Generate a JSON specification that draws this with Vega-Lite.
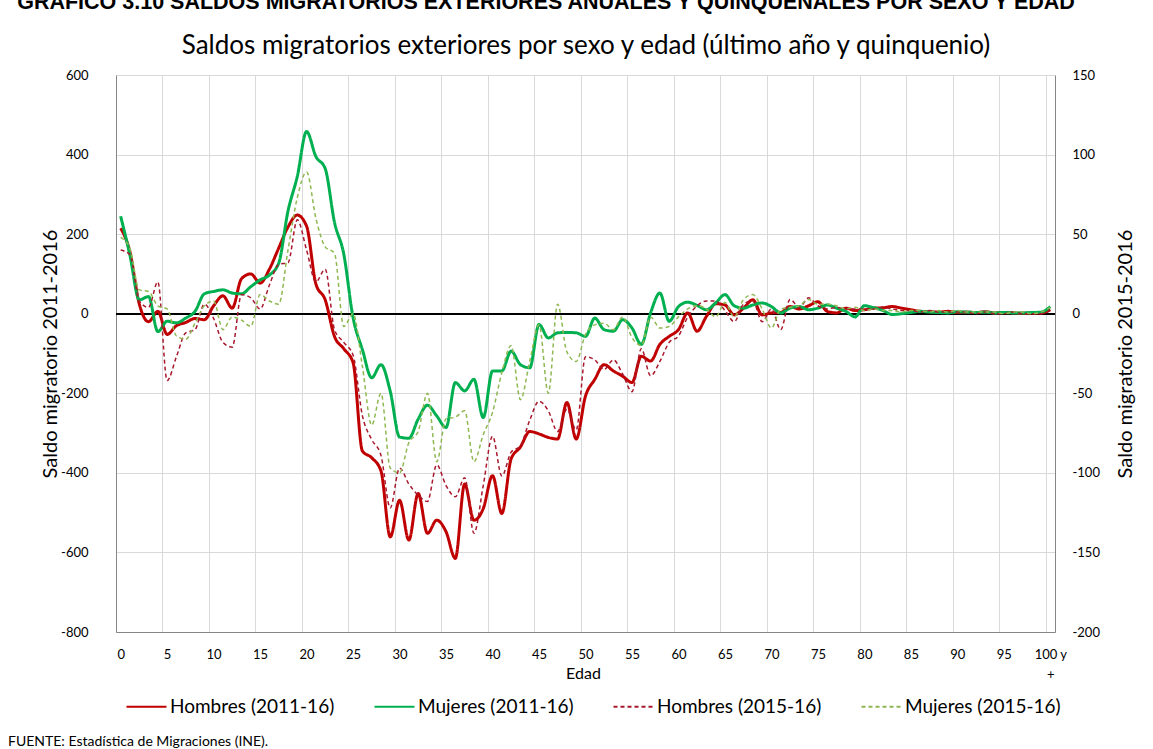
{
  "$schema": "https://vega.github.io/schema/vega-lite/v6.json",
  "autosize": {"type": "none"},
  "width": 939,
  "height": 557,
  "padding": {"left": 116, "top": 75, "right": 98, "bottom": 117},
  "background": "#ffffff",
  "title": {
    "text": "FUENTE: Estadística de Migraciones (INE).",
    "orient": "bottom",
    "anchor": "start",
    "frame": "group",
    "dx": -108,
    "offset": 29,
    "fontSize": 14,
    "fontWeight": "normal",
    "font": "Lato",
    "color": "#000000",
    "baseline": "alphabetic"
  },
  "datasets": {
    "h1": [
      {"edad":0,"v":215},{"edad":1,"v":155},{"edad":2,"v":25},{"edad":3,"v":-20},{"edad":4,"v":6},{"edad":5,"v":-52},{"edad":6,"v":-30},{"edad":7,"v":-22},{"edad":8,"v":-12},{"edad":9,"v":-15},
      {"edad":10,"v":20},{"edad":11,"v":45},{"edad":12,"v":14},{"edad":13,"v":88},{"edad":14,"v":100},{"edad":15,"v":77},{"edad":16,"v":112},{"edad":17,"v":165},{"edad":18,"v":218},{"edad":19,"v":248},
      {"edad":20,"v":220},{"edad":21,"v":75},{"edad":22,"v":35},{"edad":23,"v":-57},{"edad":24,"v":-88},{"edad":25,"v":-123},{"edad":26,"v":-345},{"edad":27,"v":-362},{"edad":28,"v":-395},{"edad":29,"v":-561},
      {"edad":30,"v":-469},{"edad":31,"v":-569},{"edad":32,"v":-452},{"edad":33,"v":-552},{"edad":34,"v":-519},{"edad":35,"v":-548},{"edad":36,"v":-615},{"edad":37,"v":-428},{"edad":38,"v":-519},{"edad":39,"v":-490},
      {"edad":40,"v":-407},{"edad":41,"v":-502},{"edad":42,"v":-365},{"edad":43,"v":-335},{"edad":44,"v":-296},{"edad":45,"v":-302},{"edad":46,"v":-311},{"edad":47,"v":-315},{"edad":48,"v":-223},{"edad":49,"v":-315},
      {"edad":50,"v":-207},{"edad":51,"v":-165},{"edad":52,"v":-128},{"edad":53,"v":-144},{"edad":54,"v":-157},{"edad":55,"v":-173},{"edad":56,"v":-107},{"edad":57,"v":-119},{"edad":58,"v":-77},{"edad":59,"v":-57},
      {"edad":60,"v":-40},{"edad":61,"v":2},{"edad":62,"v":-44},{"edad":63,"v":-7},{"edad":64,"v":25},{"edad":65,"v":22},{"edad":66,"v":-3},{"edad":67,"v":14},{"edad":68,"v":35},{"edad":69,"v":-3},
      {"edad":70,"v":2},{"edad":71,"v":3},{"edad":72,"v":18},{"edad":73,"v":12},{"edad":74,"v":20},{"edad":75,"v":30},{"edad":76,"v":6},{"edad":77,"v":2},{"edad":78,"v":14},{"edad":79,"v":8},
      {"edad":80,"v":10},{"edad":81,"v":14},{"edad":82,"v":15},{"edad":83,"v":18},{"edad":84,"v":14},{"edad":85,"v":10},{"edad":86,"v":6},{"edad":87,"v":5},{"edad":88,"v":4},{"edad":89,"v":6},
      {"edad":90,"v":3},{"edad":91,"v":4},{"edad":92,"v":3},{"edad":93,"v":5},{"edad":94,"v":2},{"edad":95,"v":3},{"edad":96,"v":2},{"edad":97,"v":1},{"edad":98,"v":2},{"edad":99,"v":2},{"edad":100,"v":10}
    ],
    "m1": [
      {"edad":0,"v":245},{"edad":1,"v":147},{"edad":2,"v":35},{"edad":3,"v":43},{"edad":4,"v":-45},{"edad":5,"v":-19},{"edad":6,"v":-23},{"edad":7,"v":-11},{"edad":8,"v":6},{"edad":9,"v":50},
      {"edad":10,"v":56},{"edad":11,"v":60},{"edad":12,"v":52},{"edad":13,"v":50},{"edad":14,"v":68},{"edad":15,"v":85},{"edad":16,"v":97},{"edad":17,"v":127},{"edad":18,"v":258},{"edad":19,"v":345},
      {"edad":20,"v":458},{"edad":21,"v":395},{"edad":22,"v":365},{"edad":23,"v":230},{"edad":24,"v":150},{"edad":25,"v":-10},{"edad":26,"v":-90},{"edad":27,"v":-161},{"edad":28,"v":-128},{"edad":29,"v":-195},
      {"edad":30,"v":-310},{"edad":31,"v":-313},{"edad":32,"v":-265},{"edad":33,"v":-230},{"edad":34,"v":-257},{"edad":35,"v":-286},{"edad":36,"v":-173},{"edad":37,"v":-194},{"edad":38,"v":-165},{"edad":39,"v":-261},
      {"edad":40,"v":-144},{"edad":41,"v":-144},{"edad":42,"v":-94},{"edad":43,"v":-128},{"edad":44,"v":-136},{"edad":45,"v":-27},{"edad":46,"v":-61},{"edad":47,"v":-48},{"edad":48,"v":-47},{"edad":49,"v":-48},
      {"edad":50,"v":-57},{"edad":51,"v":-11},{"edad":52,"v":-40},{"edad":53,"v":-44},{"edad":54,"v":-15},{"edad":55,"v":-36},{"edad":56,"v":-77},{"edad":57,"v":2},{"edad":58,"v":52},{"edad":59,"v":-19},
      {"edad":60,"v":18},{"edad":61,"v":29},{"edad":62,"v":21},{"edad":63,"v":10},{"edad":64,"v":27},{"edad":65,"v":48},{"edad":66,"v":20},{"edad":67,"v":14},{"edad":68,"v":22},{"edad":69,"v":27},
      {"edad":70,"v":18},{"edad":71,"v":2},{"edad":72,"v":14},{"edad":73,"v":18},{"edad":74,"v":10},{"edad":75,"v":14},{"edad":76,"v":22},{"edad":77,"v":14},{"edad":78,"v":6},{"edad":79,"v":-8},
      {"edad":80,"v":20},{"edad":81,"v":15},{"edad":82,"v":8},{"edad":83,"v":-2},{"edad":84,"v":0},{"edad":85,"v":3},{"edad":86,"v":6},{"edad":87,"v":4},{"edad":88,"v":3},{"edad":89,"v":2},
      {"edad":90,"v":5},{"edad":91,"v":4},{"edad":92,"v":3},{"edad":93,"v":4},{"edad":94,"v":2},{"edad":95,"v":3},{"edad":96,"v":2},{"edad":97,"v":2},{"edad":98,"v":3},{"edad":99,"v":4},{"edad":100,"v":18}
    ],
    "h2": [
      {"edad":0,"v":40},{"edad":1,"v":37},{"edad":2,"v":8},{"edad":3,"v":4},{"edad":4,"v":20},{"edad":5,"v":-42},{"edad":6,"v":-27},{"edad":7,"v":-12},{"edad":8,"v":-10},{"edad":9,"v":6},
      {"edad":10,"v":-3},{"edad":11,"v":-18},{"edad":12,"v":-21},{"edad":13,"v":12},{"edad":14,"v":10},{"edad":15,"v":3},{"edad":16,"v":18},{"edad":17,"v":31},{"edad":18,"v":32},{"edad":19,"v":59},
      {"edad":20,"v":40},{"edad":21,"v":20},{"edad":22,"v":28},{"edad":23,"v":-10},{"edad":24,"v":-18},{"edad":25,"v":-26},{"edad":26,"v":-64},{"edad":27,"v":-79},{"edad":28,"v":-89},{"edad":29,"v":-122},
      {"edad":30,"v":-97},{"edad":31,"v":-107},{"edad":32,"v":-114},{"edad":33,"v":-118},{"edad":34,"v":-95},{"edad":35,"v":-108},{"edad":36,"v":-115},{"edad":37,"v":-103},{"edad":38,"v":-138},{"edad":39,"v":-108},
      {"edad":40,"v":-77},{"edad":41,"v":-102},{"edad":42,"v":-87},{"edad":43,"v":-83},{"edad":44,"v":-67},{"edad":45,"v":-55},{"edad":46,"v":-61},{"edad":47,"v":-74},{"edad":48,"v":-60},{"edad":49,"v":-73},
      {"edad":50,"v":-27},{"edad":51,"v":-29},{"edad":52,"v":-35},{"edad":53,"v":-29},{"edad":54,"v":-38},{"edad":55,"v":-49},{"edad":56,"v":-22},{"edad":57,"v":-39},{"edad":58,"v":-30},{"edad":59,"v":-18},
      {"edad":60,"v":-14},{"edad":61,"v":-2},{"edad":62,"v":5},{"edad":63,"v":8},{"edad":64,"v":8},{"edad":65,"v":2},{"edad":66,"v":-5},{"edad":67,"v":6},{"edad":68,"v":8},{"edad":69,"v":-5},
      {"edad":70,"v":3},{"edad":71,"v":-10},{"edad":72,"v":9},{"edad":73,"v":4},{"edad":74,"v":10},{"edad":75,"v":5},{"edad":76,"v":3},{"edad":77,"v":4},{"edad":78,"v":3},{"edad":79,"v":3},
      {"edad":80,"v":3},{"edad":81,"v":3},{"edad":82,"v":4},{"edad":83,"v":3},{"edad":84,"v":2},{"edad":85,"v":2},{"edad":86,"v":1},{"edad":87,"v":2},{"edad":88,"v":1},{"edad":89,"v":1},
      {"edad":90,"v":1},{"edad":91,"v":1},{"edad":92,"v":0},{"edad":93,"v":1},{"edad":94,"v":0},{"edad":95,"v":0},{"edad":96,"v":1},{"edad":97,"v":0},{"edad":98,"v":0},{"edad":99,"v":0},{"edad":100,"v":2}
    ],
    "m2": [
      {"edad":0,"v":48},{"edad":1,"v":41},{"edad":2,"v":15},{"edad":3,"v":14},{"edad":4,"v":5},{"edad":5,"v":3},{"edad":6,"v":-14},{"edad":7,"v":-16},{"edad":8,"v":-6},{"edad":9,"v":5},
      {"edad":10,"v":8},{"edad":11,"v":-10},{"edad":12,"v":-2},{"edad":13,"v":-4},{"edad":14,"v":-8},{"edad":15,"v":12},{"edad":16,"v":8},{"edad":17,"v":6},{"edad":18,"v":40},{"edad":19,"v":73},
      {"edad":20,"v":89},{"edad":21,"v":60},{"edad":22,"v":42},{"edad":23,"v":38},{"edad":24,"v":-8},{"edad":25,"v":0},{"edad":26,"v":-33},{"edad":27,"v":-70},{"edad":28,"v":-50},{"edad":29,"v":-97},
      {"edad":30,"v":-100},{"edad":31,"v":-81},{"edad":32,"v":-74},{"edad":33,"v":-50},{"edad":34,"v":-93},{"edad":35,"v":-66},{"edad":36,"v":-65},{"edad":37,"v":-61},{"edad":38,"v":-93},{"edad":39,"v":-76},
      {"edad":40,"v":-62},{"edad":41,"v":-37},{"edad":42,"v":-20},{"edad":43,"v":-54},{"edad":44,"v":-30},{"edad":45,"v":-7},{"edad":46,"v":-50},{"edad":47,"v":6},{"edad":48,"v":-24},{"edad":49,"v":-30},
      {"edad":50,"v":-13},{"edad":51,"v":-7},{"edad":52,"v":-6},{"edad":53,"v":-10},{"edad":54,"v":-2},{"edad":55,"v":-15},{"edad":56,"v":-20},{"edad":57,"v":-2},{"edad":58,"v":-9},{"edad":59,"v":-8},
      {"edad":60,"v":-2},{"edad":61,"v":3},{"edad":62,"v":5},{"edad":63,"v":3},{"edad":64,"v":-2},{"edad":65,"v":7},{"edad":66,"v":-2},{"edad":67,"v":9},{"edad":68,"v":12},{"edad":69,"v":3},
      {"edad":70,"v":-9},{"edad":71,"v":3},{"edad":72,"v":4},{"edad":73,"v":5},{"edad":74,"v":9},{"edad":75,"v":6},{"edad":76,"v":6},{"edad":77,"v":5},{"edad":78,"v":3},{"edad":79,"v":4},
      {"edad":80,"v":2},{"edad":81,"v":3},{"edad":82,"v":2},{"edad":83,"v":2},{"edad":84,"v":1},{"edad":85,"v":2},{"edad":86,"v":2},{"edad":87,"v":1},{"edad":88,"v":2},{"edad":89,"v":1},
      {"edad":90,"v":2},{"edad":91,"v":1},{"edad":92,"v":1},{"edad":93,"v":1},{"edad":94,"v":1},{"edad":95,"v":0},{"edad":96,"v":1},{"edad":97,"v":1},{"edad":98,"v":0},{"edad":99,"v":1},{"edad":100,"v":4}
    ]
  },
  "layer": [
    {
      "layer": [
        {
          "data": {"name": "h1"},
          "mark": {"type": "rule", "color": "#000000", "strokeWidth": 1},
          "encoding": {
            "y": {"datum": 0}
          }
        },
        {
          "data": {"name": "h1"},
          "mark": {"type": "line", "interpolate": "monotone", "strokeWidth": 3},
          "encoding": {
            "x": {
              "field": "edad", "type": "quantitative",
              "scale": {"domain": [-0.5, 100.5], "nice": false, "zero": false},
              "axis": {
                "orient": "bottom",
                "values": [0,5,10,15,20,25,30,35,40,45,50,55,60,65,70,75,80,85,90,95,100],
                "grid": true,
                "gridColor": "#D9D9D9",
                "ticks": false,
                "tickOffset": -4.65,
                "labelOffset": 4.65,
                "labelExpr": "datum.value == 100 ? '100 y' : datum.label",
                "labelPadding": 16,
                "labelFlush": false,
                "labelOverlap": false,
                "labelFontSize": 13,
                "domainColor": "#868686",
                "title": "Edad",
                "titleFontSize": 16,
                "titleX": 467,
                "titleY": 41,
                "titleBaseline": "middle",
                "titleAlign": "center"
              }
            },
            "y": {
              "field": "v", "type": "quantitative",
              "scale": {"domain": [-800, 600], "nice": false, "zero": false},
              "axis": {
                "orient": "left",
                "values": [-800,-600,-400,-200,0,200,400,600],
                "grid": true,
                "gridColor": "#D9D9D9",
                "ticks": false,
                "labelExpr": "'' + datum.value",
                "labelPadding": 28,
                "labelFontSize": 13,
                "domainColor": "#868686",
                "title": "Saldo migratorio 2011-2016",
                "titleFontSize": 20,
                "titleAngle": 270,
                "titleX": -66,
                "titleY": 278.5,
                "titleBaseline": "middle",
                "titleAlign": "center"
              }
            },
            "color": {
              "datum": "Hombres (2011-16)",
              "scale": {"domain": ["Hombres (2011-16)","Mujeres (2011-16)","Hombres (2015-16)","Mujeres (2015-16)"], "range": ["#C00000","#00B050","#A8182C","#8FB852"]},
              "legend": {"title": null}
            },
            "strokeDash": {
              "datum": "Hombres (2011-16)",
              "scale": {"domain": ["Hombres (2011-16)","Mujeres (2011-16)","Hombres (2015-16)","Mujeres (2015-16)"], "range": [[1,0],[1,0],[4,3],[4,3]]},
              "legend": {"title": null}
            }
          }
        },
        {
          "data": {"name": "m1"},
          "mark": {"type": "line", "interpolate": "monotone", "strokeWidth": 3},
          "encoding": {
            "x": {
              "field": "edad", "type": "quantitative",
              "scale": {"domain": [-0.5, 100.5], "nice": false, "zero": false},
              "axis": {
                "orient": "bottom",
                "values": [100],
                "labelExpr": "'+'",
                "grid": false,
                "ticks": false,
                "domain": false,
                "labelPadding": 36,
                "labelFontSize": 13,
                "labelFlush": false,
                "labelOverlap": false,
                "title": null
              }
            },
            "y": {"field": "v", "type": "quantitative", "scale": {"domain": [-800, 600], "nice": false, "zero": false}},
            "color": {"datum": "Mujeres (2011-16)"},
            "strokeDash": {"datum": "Mujeres (2011-16)"}
          }
        }
      ],
      "resolve": {"axis": {"x": "independent"}}
    },
    {
      "layer": [
        {
          "data": {"name": "h2"},
          "mark": {"type": "line", "interpolate": "monotone", "strokeWidth": 1.5},
          "encoding": {
            "x": {
              "field": "edad", "type": "quantitative",
              "scale": {"domain": [-0.5, 100.5], "nice": false, "zero": false},
              "axis": {
                "orient": "top",
                "values": [50],
                "labelExpr": "'GRÁFICO 3.10 SALDOS MIGRATORIOS EXTERIORES ANUALES Y QUINQUENALES POR SEXO Y EDAD'",
                "labelFont": "Liberation Sans",
                "labelFontWeight": "bold",
                "labelFontSize": 21.5,
                "labelPadding": 67,
                "labelBaseline": "alphabetic",
                "labelOffset": -40,
                "labelLimit": 0,
                "labelFlush": false,
                "labelOverlap": false,
                "labelBound": false,
                "ticks": false,
                "tickSize": 0,
                "domain": false,
                "grid": false,
                "title": "Saldos migratorios exteriores por sexo y edad (último año y quinquenio)",
                "titleFontSize": 26,
                "titleX": 469.5,
                "titleY": -22,
                "titleBaseline": "alphabetic",
                "titleAlign": "center",
                "titleLimit": 0
              }
            },
            "y": {
              "field": "v", "type": "quantitative",
              "scale": {"domain": [-200, 150], "nice": false, "zero": false},
              "axis": {
                "orient": "right",
                "values": [-200,-150,-100,-50,0,50,100,150],
                "grid": false,
                "ticks": false,
                "labelExpr": "'' + datum.value",
                "labelPadding": 17,
                "labelFontSize": 13,
                "domainColor": "#868686",
                "title": "Saldo migratorio 2015-2016",
                "titleFontSize": 20,
                "titleAngle": 270,
                "titleX": 70,
                "titleY": 278.5,
                "titleBaseline": "middle",
                "titleAlign": "center"
              }
            },
            "color": {"datum": "Hombres (2015-16)"},
            "strokeDash": {"datum": "Hombres (2015-16)"}
          }
        },
        {
          "data": {"name": "m2"},
          "mark": {"type": "line", "interpolate": "monotone", "strokeWidth": 1.5},
          "encoding": {
            "x": {"field": "edad", "type": "quantitative", "scale": {"domain": [-0.5, 100.5], "nice": false, "zero": false}},
            "y": {"field": "v", "type": "quantitative", "scale": {"domain": [-200, 150], "nice": false, "zero": false}},
            "color": {"datum": "Mujeres (2015-16)"},
            "strokeDash": {"datum": "Mujeres (2015-16)"}
          }
        }
      ]
    }
  ],
  "resolve": {"scale": {"y": "independent"}, "axis": {"x": "independent", "y": "independent"}},
  "config": {
    "view": {"stroke": null},
    "font": "Lato",
    "axis": {
      "labelFont": "Lato",
      "titleFont": "Lato",
      "labelColor": "#000000",
      "titleColor": "#000000",
      "titleFontWeight": "normal"
    },
    "legend": {
      "orient": "none",
      "legendX": 9,
      "legendY": 610,
      "direction": "horizontal",
      "symbolType": "stroke",
      "symbolSize": 1600,
      "symbolStrokeWidth": 2.2,
      "labelFont": "Lato",
      "labelFontSize": 19,
      "labelColor": "#000000",
      "labelOffset": 2,
      "labelLimit": 0,
      "columnPadding": 35,
      "padding": 0
    }
  }
}
